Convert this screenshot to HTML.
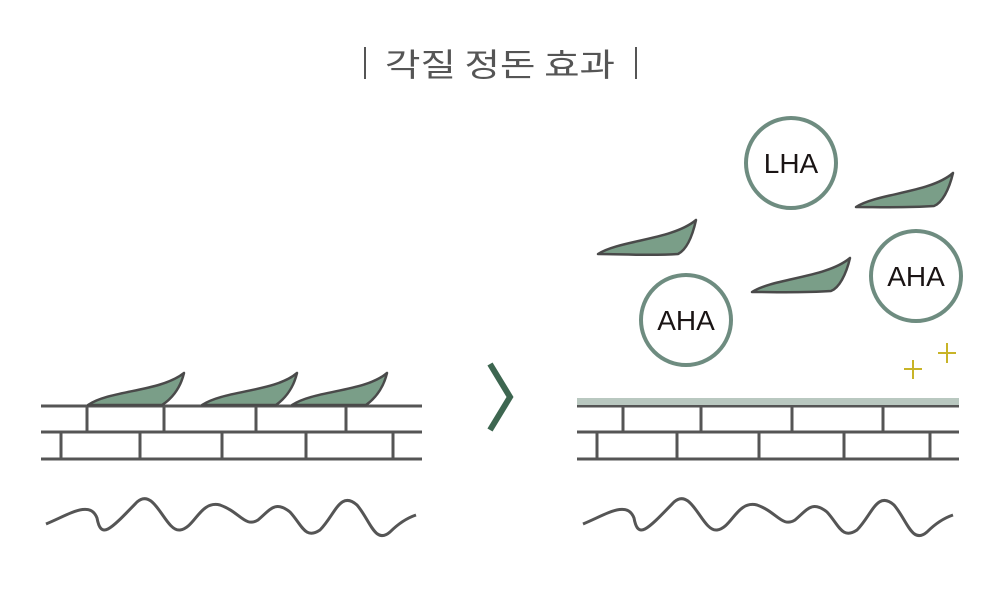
<!DOCTYPE html>
<html><head><meta charset="utf-8"><style>
html,body{margin:0;padding:0;background:#fff;}
svg{display:block;}
</style></head><body>
<svg width="1000" height="591" viewBox="0 0 1000 591" xmlns="http://www.w3.org/2000/svg">
<text x="500" y="76" text-anchor="middle" font-family="'Noto Sans CJK KR',sans-serif" font-weight="400" font-size="32" fill="#555" textLength="230" lengthAdjust="spacingAndGlyphs">각질 정돈 효과</text>
<line x1="365" y1="47" x2="365" y2="79" stroke="#555" stroke-width="2"/>
<line x1="636" y1="47" x2="636" y2="79" stroke="#555" stroke-width="2"/>

<g stroke="#555" stroke-width="3" fill="none">
  <line x1="41" y1="406" x2="422" y2="406"/>
  <line x1="41" y1="432" x2="422" y2="432"/>
  <line x1="41" y1="459" x2="422" y2="459"/>
  <line x1="87" y1="406" x2="87" y2="432"/>
  <line x1="164" y1="406" x2="164" y2="432"/>
  <line x1="256" y1="406" x2="256" y2="432"/>
  <line x1="346" y1="406" x2="346" y2="432"/>
  <line x1="61" y1="432" x2="61" y2="459"/>
  <line x1="140" y1="432" x2="140" y2="459"/>
  <line x1="222" y1="432" x2="222" y2="459"/>
  <line x1="306" y1="432" x2="306" y2="459"/>
  <line x1="393" y1="432" x2="393" y2="459"/>
  <line x1="577" y1="406" x2="959" y2="406"/>
  <line x1="577" y1="432" x2="959" y2="432"/>
  <line x1="577" y1="459" x2="959" y2="459"/>
  <line x1="623" y1="406" x2="623" y2="432"/>
  <line x1="701" y1="406" x2="701" y2="432"/>
  <line x1="792" y1="406" x2="792" y2="432"/>
  <line x1="883" y1="406" x2="883" y2="432"/>
  <line x1="597" y1="432" x2="597" y2="459"/>
  <line x1="677" y1="432" x2="677" y2="459"/>
  <line x1="759" y1="432" x2="759" y2="459"/>
  <line x1="844" y1="432" x2="844" y2="459"/>
  <line x1="930" y1="432" x2="930" y2="459"/>
  <path d="M46,524 C70,514 90,500 97,518 C101,540 110,530 137,502 C155,486 165,532 180,530 C195,528 200,500 220,505 C240,512 245,528 258,520 C270,510 275,500 290,512 C302,525 305,540 320,530 C335,515 340,490 357,505 C370,520 375,545 390,532 C400,522 410,517 416,515"/>
  <path transform="translate(537,0)" d="M46,524 C70,514 90,500 97,518 C101,540 110,530 137,502 C155,486 165,532 180,530 C195,528 200,500 220,505 C240,512 245,528 258,520 C270,510 275,500 290,512 C302,525 305,540 320,530 C335,515 340,490 357,505 C370,520 375,545 390,532 C400,522 410,517 416,515"/>
</g>

<rect x="577" y="398" width="382" height="7" fill="#b9c8c0"/>

<g fill="#7a9e88" stroke="#4a4a4a" stroke-width="2.5" stroke-linejoin="round">
  <path d="M88,405 C110,390 160,392 184,373 C180,390 170,400 162,405 Z"/>
  <path d="M202,405 C225,390 275,392 297,373 C293,390 283,400 276,405 Z"/>
  <path d="M292,405 C315,390 365,392 387,373 C383,390 373,400 366,405 Z"/>
  <path d="M598,254 C620,240 672,240 696,220 C692,238 686,250 678,254 C650,256 620,254 598,254 Z"/>
  <path d="M856,207 C878,193 930,193 953,173 C949,190 942,203 934,206 C905,208 878,207 856,207 Z"/>
  <path d="M752,292 C774,278 826,278 850,258 C846,275 839,288 831,291 C802,293 775,292 752,292 Z"/>
</g>

<g fill="#fff" stroke="#6e8c80" stroke-width="4">
  <circle cx="791" cy="163" r="45"/>
  <circle cx="916" cy="276" r="45"/>
  <circle cx="686" cy="320" r="45"/>
</g>
<g font-family="'Liberation Sans',sans-serif" font-size="28" fill="#1a1414" text-anchor="middle">
  <text x="791" y="173">LHA</text>
  <text x="916" y="286">AHA</text>
  <text x="686" y="330">AHA</text>
</g>

<g stroke="#c8b428" stroke-width="2">
  <line x1="904" y1="369" x2="922" y2="369"/><line x1="913" y1="360" x2="913" y2="379"/>
  <line x1="938" y1="353" x2="956" y2="353"/><line x1="947" y1="343" x2="947" y2="363"/>
</g>

<polyline points="490,364 510,397 490,430" fill="none" stroke="#3d6650" stroke-width="6"/>
</svg>
</body></html>
